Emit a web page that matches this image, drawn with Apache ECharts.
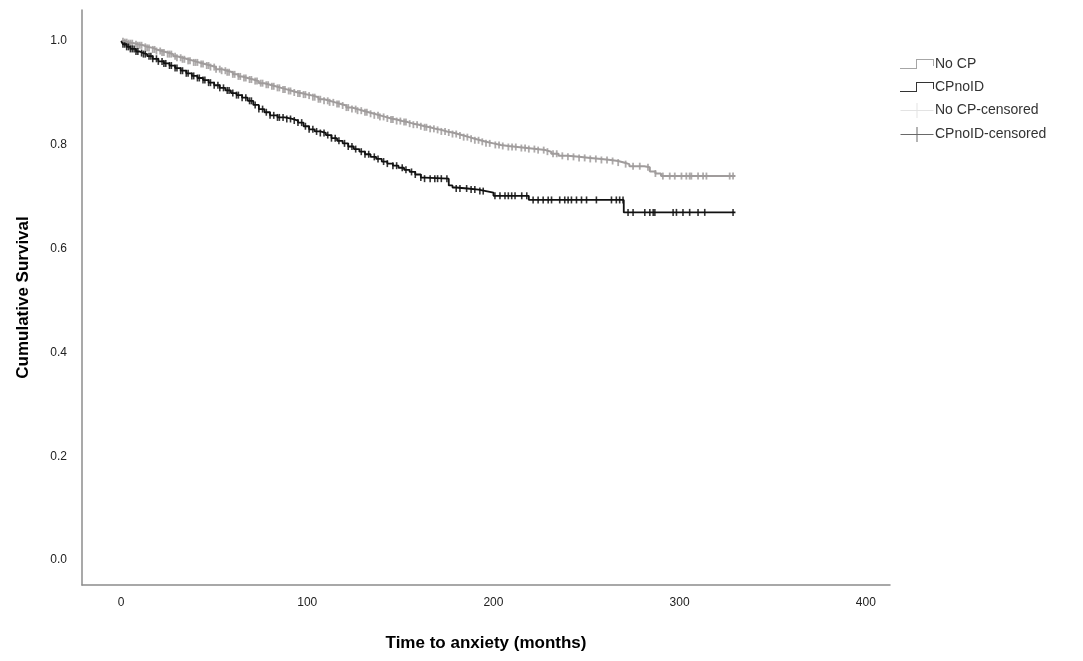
<!DOCTYPE html>
<html>
<head>
<meta charset="utf-8">
<script src="https://cdn.jsdelivr.net/npm/echarts@6/dist/echarts.min.js"></script>
<style>
  html, body { margin: 0; padding: 0; background: #fff; }
  #main { width: 1083px; height: 661px; }
</style>
</head>
<body>
<div id="main"></div>
<script>
// Kaplan-Meier step points: time (months) and survival after that time
var noCpTime = [0, 2, 4, 7, 9, 12, 14, 17, 19, 22, 25, 28, 30, 33, 36, 39, 42, 45, 48, 51, 54, 57, 60, 63, 65, 68, 71, 74, 77, 80, 83, 86, 89, 92, 95, 98, 100, 103, 106, 109, 112, 115, 118, 121, 124, 127, 130, 133, 136, 139, 142, 145, 148, 151, 154, 157, 160, 163, 166, 169, 172, 175, 178, 181, 184, 187, 190, 193, 196, 200, 204, 208, 213, 218, 223, 228, 231, 235, 240, 246, 252, 258, 263, 267, 270, 273, 281, 284, 287, 290, 330]
var noCpSurv = [1.000, 0.998, 0.996, 0.994, 0.992, 0.989, 0.987, 0.984, 0.981, 0.978, 0.975, 0.971, 0.968, 0.965, 0.962, 0.959, 0.956, 0.953, 0.950, 0.946, 0.943, 0.940, 0.936, 0.932, 0.929, 0.926, 0.923, 0.919, 0.916, 0.913, 0.910, 0.907, 0.904, 0.901, 0.899, 0.897, 0.895, 0.892, 0.888, 0.885, 0.882, 0.879, 0.876, 0.872, 0.869, 0.866, 0.863, 0.860, 0.857, 0.854, 0.851, 0.849, 0.846, 0.844, 0.841, 0.839, 0.836, 0.834, 0.831, 0.829, 0.826, 0.824, 0.821, 0.818, 0.815, 0.812, 0.809, 0.806, 0.803, 0.800, 0.798, 0.796, 0.794, 0.792, 0.790, 0.787, 0.783, 0.779, 0.777, 0.775, 0.773, 0.771, 0.769, 0.766, 0.763, 0.759, 0.757, 0.749, 0.745, 0.740, 0.740]

var cpTime = [0, 1, 3, 5, 8, 10, 12, 14, 17, 20, 23, 26, 29, 32, 35, 38, 41, 44, 47, 50, 53, 56, 59, 62, 65, 68, 71, 74, 77, 80, 84, 88, 92, 95, 98, 101, 104, 107, 110, 113, 116, 119, 122, 125, 128, 131, 134, 137, 140, 143, 146, 149, 152, 155, 158, 161, 163, 176, 178, 180, 186, 192, 196, 200, 219, 270, 330]
var cpSurv = [1.000, 0.994, 0.989, 0.985, 0.980, 0.977, 0.975, 0.971, 0.966, 0.961, 0.957, 0.953, 0.948, 0.943, 0.938, 0.933, 0.929, 0.925, 0.920, 0.915, 0.910, 0.905, 0.900, 0.896, 0.891, 0.885, 0.877, 0.869, 0.863, 0.857, 0.853, 0.850, 0.847, 0.843, 0.836, 0.830, 0.826, 0.823, 0.819, 0.813, 0.808, 0.803, 0.797, 0.792, 0.787, 0.782, 0.777, 0.773, 0.768, 0.764, 0.760, 0.756, 0.752, 0.748, 0.743, 0.737, 0.735, 0.722, 0.718, 0.716, 0.714, 0.711, 0.708, 0.702, 0.694, 0.670, 0.670]

// censored times
var noCpCensor = [1, 2, 3, 4, 5, 6, 8, 9, 10, 11, 13, 14, 15, 17, 18, 19, 21, 22, 23, 25, 26, 27, 29, 30, 32, 33, 34, 36, 37, 39, 40, 41, 43, 44, 46, 47, 48, 50, 51, 53, 54, 56, 57, 58, 60, 61, 63, 64, 66, 67, 69, 70, 72, 73, 75, 76, 78, 79, 81, 82, 84, 85, 87, 88, 90, 91, 93, 95, 96, 98, 99, 101, 103, 104, 106, 107, 109, 111, 112, 114, 116, 117, 119, 121, 122, 124, 126, 127, 129, 131, 132, 134, 136, 138, 139, 141, 143, 145, 146, 148, 150, 152, 153, 155, 157, 159, 161, 163, 164, 166, 168, 170, 172, 174, 176, 178, 180, 182, 184, 186, 188, 190, 192, 194, 196, 198, 201, 203, 205, 208, 210, 212, 215, 217, 219, 222, 224, 227, 229, 232, 234, 237, 240, 243, 246, 249, 252, 255, 258, 261, 264, 267, 271, 275, 278.6, 283, 287, 291, 294.7, 297.4, 301, 303.6, 305.4, 306.3, 309.9, 312.6, 314.4, 326.9, 328.7]
var cpCensor = [1, 2, 3, 4, 5, 6, 7, 8, 9, 11, 12, 13, 15, 16, 17, 19, 20, 22, 23, 24, 26, 27, 29, 30, 32, 33, 35, 36, 38, 39, 41, 42, 44, 45, 47, 48, 50, 52, 53, 55, 57, 58, 60, 62, 63, 65, 67, 69, 70, 72, 74, 76, 78, 80, 82, 84, 85, 87, 89, 91, 93, 95, 97, 99, 101, 103, 105, 107, 109, 111, 113, 115, 117, 120, 122, 124, 126, 129, 131, 133, 136, 138, 141, 143, 146, 148, 151, 153, 156, 158, 161, 163, 166, 168.5, 170, 172, 175, 180, 182, 185.6, 188, 190, 192.7, 194.5, 200.8, 203.5, 206.2, 208, 209.8, 211.6, 215.2, 217.9, 221.3, 224, 226.7, 229.4, 231.2, 235.6, 238.3, 240.1, 241.9, 244.6, 247.3, 250, 255.3, 263.4, 266, 267.8, 269.6, 272.3, 275, 281.3, 284, 285.8, 286.7, 296.5, 298.3, 301.8, 305.4, 309.9, 313.5, 328.7]

var xTicks = [0, 100, 200, 300, 400]
var yTicks = [0, 0.2, 0.4, 0.6, 0.8, 1.0]

function pairs(t, s) {
  return t.map(function (v, i) { return [v, s[i]] })
}
// survival value at a censored time, read from the step points
function censorPoints(times, t, s) {
  return times.map(function (c) {
    var v = s[0]
    for (var i = 0; i < t.length; i++) {
      if (t[i] <= c) v = s[i]
    }
    return [c, v]
  })
}

var stepIcon = 'path://M0,9 L16,9 L16,0 L34,0 L34,7 L33,7 L33,1 L17,1 L17,10 L0,10 Z'
var plusIcon = 'path://M0,7 L16,7 L16,0 L17,0 L17,7 L33,7 L33,8 L17,8 L17,15 L16,15 L16,8 L0,8 Z'

var myChart = echarts.init(document.getElementById('main'))
var font = '"Liberation Sans", Arial, sans-serif'
var option = {
  animation: false,
  textStyle: { fontFamily: font },
  grid: { left: 82, right: 193, top: 10, bottom: 76 },
  legend: {
    orient: 'vertical',
    left: 895,
    top: 52,
    itemWidth: 34,
    itemHeight: 15,
    itemGap: 9,
    textStyle: { fontSize: 14, color: '#333', fontFamily: font, padding: [0, 0, 0, -4] },
    data: [
      { name: 'No CP', icon: stepIcon, itemStyle: { color: '#a6a6a6', borderWidth: 0 } },
      { name: 'CPnoID', icon: stepIcon, itemStyle: { color: '#333', borderWidth: 0 } },
      { name: 'No CP-censored', icon: plusIcon, itemStyle: { color: '#dcdcdc', borderWidth: 0 } },
      { name: 'CPnoID-censored', icon: plusIcon, itemStyle: { color: '#444', borderWidth: 0 } }
    ]
  },
  xAxis: {
    type: 'value',
    min: -21,
    max: 413,
    name: 'Time to anxiety (months)',
    nameLocation: 'middle',
    nameGap: 50,
    nameTextStyle: { fontSize: 17, fontWeight: 'bold', color: '#000', fontFamily: font },
    axisLine: { show: true, onZero: false, lineStyle: { color: '#8c8c8c', width: 1.5 } },
    axisTick: { show: false },
    splitLine: { show: false },
    axisLabel: { customValues: xTicks, margin: 12, fontSize: 12, color: '#222', fontFamily: font }
  },
  yAxis: {
    type: 'value',
    min: -0.048,
    max: 1.06,
    name: 'Cumulative Survival',
    nameLocation: 'middle',
    nameGap: 50,
    nameRotate: 90,
    nameTextStyle: { fontSize: 17, fontWeight: 'bold', color: '#000', fontFamily: font },
    axisLine: { show: true, onZero: false, lineStyle: { color: '#8c8c8c', width: 1.5 } },
    axisTick: { show: false },
    splitLine: { show: false },
    axisLabel: {
      customValues: yTicks, margin: 15, fontSize: 12, color: '#222', fontFamily: font,
      formatter: function (v) { return v.toFixed(1) }
    }
  },
  series: [
    {
      name: 'No CP',
      type: 'line',
      step: 'end',
      showSymbol: false,
      color: '#a6a6a6',
      lineStyle: { color: '#a09c9c', width: 2 },
      data: pairs(noCpTime, noCpSurv)
    },
    {
      name: 'CPnoID',
      type: 'line',
      step: 'end',
      showSymbol: false,
      color: '#333',
      lineStyle: { color: '#111', width: 1.8 },
      data: pairs(cpTime, cpSurv)
    },
    {
      name: 'No CP-censored',
      type: 'scatter',
      symbol: 'rect',
      symbolSize: [1.8, 7],
      itemStyle: { color: '#9a9696' },
      data: censorPoints(noCpCensor, noCpTime, noCpSurv)
    },
    {
      name: 'CPnoID-censored',
      type: 'scatter',
      symbol: 'rect',
      symbolSize: [1.6, 7],
      itemStyle: { color: '#000' },
      data: censorPoints(cpCensor, cpTime, cpSurv)
    }
  ]
}
myChart.setOption(option)
window.addEventListener('resize', () => {
  myChart.resize()
})
</script>
</body>
</html>
